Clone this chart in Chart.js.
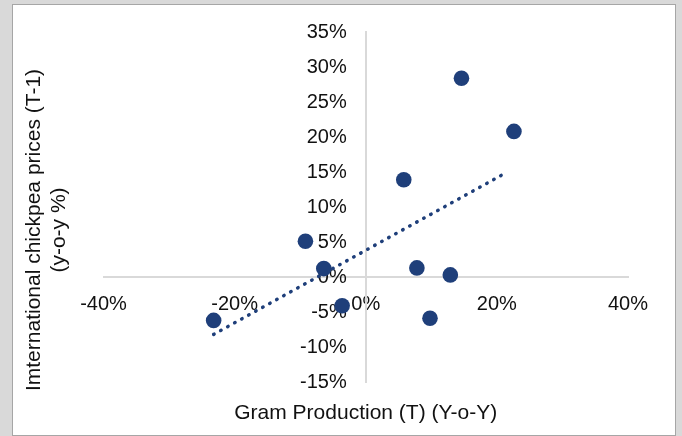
<!DOCTYPE html>
<html lang="en">
<head>
<meta charset="UTF-8">
<title>Gram production vs chickpea prices</title>
<script src="https://cdn.jsdelivr.net/npm/chart.js@4.4.0/dist/chart.umd.min.js"></script>
<style>
  html, body { margin: 0; padding: 0; background: #d9d9d9; }
</style>
</head>
<body>
<canvas id="myChart" width="682" height="436"></canvas>
<script>
// values (in %)
var prodChange  = [14.6, 22.6, 5.8, -9.2, -6.4, 7.8, 12.9, -3.6, 9.8, -23.2];
var priceChange = [28.4, 20.8, 13.9, 5.1, 1.2, 1.3, 0.3, -4.1, -5.9, -6.2];
// dotted linear trendline, its two ends
var trendX = [-23.2, 21.6];
var trendY = [-8.2, 15.0];
// axis ticks
var xTicks = [-40, -20, 0, 20, 40];
var yTicks = [-15, -10, -5, 0, 5, 10, 15, 20, 25, 30, 35];
var xTitle = 'Gram Production (T) (Y-o-Y)';
var yTitle = ['Imternational chickpea prices (T-1)', '(y-o-y %)'];

var FONT = "'Liberation Sans', Arial, sans-serif";
var BLUE = '#1f3f7a';

var points = prodChange.map(function (v, i) { return { x: v, y: priceChange[i] }; });
var trend = trendX.map(function (v, i) { return { x: v, y: trendY[i] }; });

// grey frame around the white chart box
var frame = {
    id: 'frame',
    beforeDraw: function (chart) {
        var ctx = chart.ctx;
        ctx.save();
        ctx.fillStyle = '#d9d9d9';
        ctx.fillRect(0, 0, chart.width, chart.height);
        ctx.fillStyle = '#ffffff';
        ctx.fillRect(13, 5, 662, 430);
        ctx.strokeStyle = '#a6a6a6';
        ctx.lineWidth = 1;
        ctx.strokeRect(12.5, 4.5, 663, 431);
        ctx.restore();
    }
};

// the centred y axis ignores ticks.padding, so push its labels off the line here
var labelGap = {
    id: 'labelGap',
    beforeDraw: function (chart) {
        var ys = chart.scales.y.getLabelItems(chart.chartArea);
        if (!ys._moved) {
            ys.forEach(function (it) { it.options.translation[0] -= 19; });
            ys._moved = true;
        }
    }
};

// axis titles sit at the outer edges, not next to the centred axes
var titles = {
    id: 'titles',
    afterDraw: function (chart) {
        var ctx = chart.ctx, a = chart.chartArea;
        ctx.save();
        ctx.fillStyle = '#111';
        ctx.font = '21px ' + FONT;
        ctx.textAlign = 'center';
        ctx.textBaseline = 'middle';
        ctx.fillText(xTitle, (a.left + a.right) / 2, a.bottom + 31);
        ctx.translate(0, (a.top + a.bottom) / 2 + 23);
        ctx.rotate(-Math.PI / 2);
        ctx.fillText(yTitle[0], 0, 34);
        ctx.fillText(yTitle[1], 0, 59);
        ctx.restore();
    }
};

var ctx = document.getElementById('myChart').getContext('2d');
var chart = new Chart(ctx, {
    type: 'scatter',
    data: {
        datasets: [{
            label: 'trend',
            type: 'line',
            data: trend,
            order: 1,
            borderColor: BLUE,
            borderWidth: 3.5,
            borderDash: [0.5, 7.5],
            borderCapStyle: 'round',
            pointRadius: 0,
            fill: false
        }, {
            label: 'data',
            data: points,
            order: 2,
            backgroundColor: BLUE,
            borderColor: BLUE,
            borderWidth: 0,
            pointRadius: 7.8
        }]
    },
    options: {
        responsive: false,
        animation: false,
        devicePixelRatio: 1,
        layout: { padding: { left: 103.5, right: 54, top: 32, bottom: 54 } },
        plugins: { legend: { display: false }, tooltip: { enabled: false } },
        scales: {
            x: {
                type: 'linear',
                min: -40, max: 40,
                position: { y: 0 },
                afterBuildTicks: function (axis) { axis.ticks = xTicks.map(function (v) { return { value: v }; }); },
                grid: { display: false },
                border: { color: '#d9d9d9', width: 2 },
                ticks: {
                    padding: 7,
                    color: '#111',
                    font: { family: FONT, size: 20 },
                    callback: function (v) { return v + '%'; }
                }
            },
            y: {
                type: 'linear',
                min: -15, max: 35,
                position: { x: 0 },
                afterBuildTicks: function (axis) { axis.ticks = yTicks.map(function (v) { return { value: v }; }); },
                grid: { display: false },
                border: { color: '#d9d9d9', width: 2 },
                ticks: {
                    color: '#111',
                    font: { family: FONT, size: 20 },
                    callback: function (v) { return v + '%'; }
                }
            }
        }
    },
    plugins: [frame, labelGap, titles]
});
</script>
</body>
</html>
